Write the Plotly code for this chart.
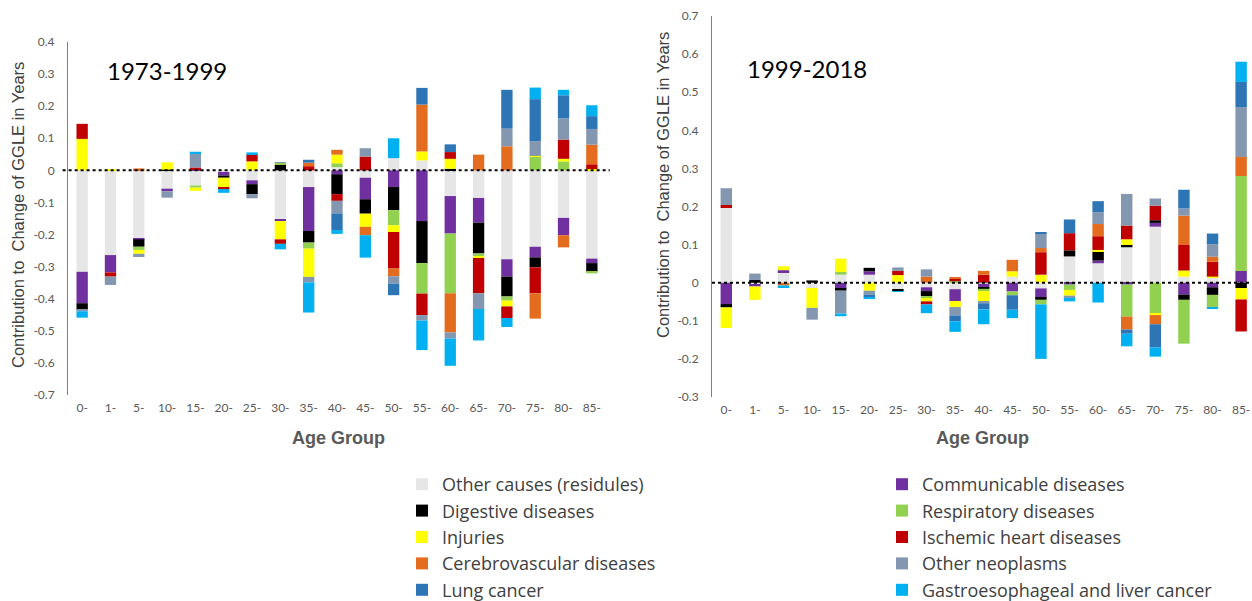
import plotly.graph_objects as go

ages = ["0-", "1-", "5-", "10-", "15-", "20-", "25-", "30-", "35-", "40-",
        "45-", "50-", "55-", "60-", "65-", "70-", "75-", "80-", "85-"]

causes = ["Other causes (residules)", "Communicable diseases", "Digestive diseases",
          "Respiratory diseases", "Injuries", "Ischemic heart diseases",
          "Cerebrovascular diseases", "Other neoplasms", "Lung cancer",
          "Gastroesophageal and liver cancer"]

colors = ["#E6E6E6", "#7030A0", "#000000", "#92D050", "#FFFF00", "#C00000",
          "#E46C1E", "#8497B0", "#2E75B6", "#00B0F0"]

# ---- 1973-1999 ----
other_73 = [-0.316, -0.264, -0.212, -0.057, -0.047, -0.005, -0.031, -0.153, -0.052, 0.010,
            -0.023, 0.038, 0.031, -0.080, -0.086, -0.277, -0.238, -0.148, -0.275]
commun_73 = [-0.098, -0.054, -0.003, -0.008, 0.004, -0.011, -0.012, -0.005, -0.137, -0.012,
             -0.067, -0.052, -0.158, -0.117, -0.077, -0.054, -0.033, -0.054, -0.014]
digest_73 = [-0.021, 0.0, -0.023, 0.002, 0.0, -0.007, -0.031, 0.018, -0.036, -0.062,
             -0.045, -0.072, -0.131, 0.005, -0.096, -0.062, -0.031, 0.0, -0.027]
resp_73 = [0.0, 0.0, -0.010, 0.0, -0.007, 0.0, 0.0, 0.005, -0.019, 0.012,
           0.0, -0.047, -0.095, -0.186, -0.008, -0.013, 0.043, 0.028, -0.005]
injur_73 = [0.098, 0.003, -0.012, 0.023, -0.010, -0.031, 0.028, -0.057, -0.088, 0.027,
            -0.041, -0.021, 0.028, 0.031, -0.006, -0.018, 0.002, 0.008, 0.004]
ihd_73 = [0.047, -0.013, 0.0, 0.0, 0.005, -0.004, 0.022, -0.014, 0.013, -0.021,
          0.043, -0.114, -0.067, 0.021, -0.110, -0.036, -0.081, 0.060, 0.015]
cereb_73 = [0.0, 0.0, 0.006, 0.0, 0.0, 0.0, 0.0, 0.0, 0.011, 0.015,
            -0.026, -0.024, 0.146, -0.122, 0.049, 0.075, -0.079, -0.038, 0.061]
neopl_73 = [-0.004, -0.026, -0.010, -0.020, 0.043, 0.0, -0.013, 0.003, -0.017, -0.039,
            0.026, -0.023, -0.017, -0.019, -0.049, 0.055, 0.046, 0.066, 0.049]
lung_73 = [0.0, 0.0, 0.0, 0.0, 0.0, 0.0, 0.0, 0.0, 0.009, -0.052,
           0.0, -0.036, 0.052, 0.024, 0.0, 0.121, 0.131, 0.072, 0.040]
gastro_73 = [-0.020, 0.0, 0.0, 0.0, 0.006, -0.012, 0.006, -0.017, -0.094, -0.012,
             -0.070, 0.062, -0.092, -0.085, -0.098, -0.028, 0.036, 0.017, 0.034]

# ---- 1999-2018 ----
other_99 = [0.196, -0.005, 0.028, -0.014, 0.021, 0.021, -0.017, -0.012, -0.017, -0.003,
            0.016, -0.015, 0.069, 0.051, 0.093, 0.147, 0.016, 0.013, 0.0]
commun_99 = [-0.056, -0.005, 0.005, 0.0, -0.016, 0.009, 0.0, -0.010, -0.031, -0.009,
             -0.023, -0.025, -0.005, 0.007, -0.005, 0.010, -0.031, -0.012, 0.031]
digest_99 = [-0.009, 0.007, 0.0, 0.006, -0.005, 0.009, -0.005, -0.013, 0.0, -0.004,
             0.0, -0.005, 0.016, 0.024, 0.006, 0.007, -0.014, -0.020, -0.014]
resp_99 = [0.0, 0.0, 0.0, 0.0, 0.007, 0.0, 0.0, -0.005, 0.004, -0.006,
           -0.010, -0.012, -0.014, 0.0, -0.084, -0.082, -0.115, -0.032, 0.249]
injur_99 = [-0.054, -0.035, 0.010, -0.052, 0.035, -0.021, 0.020, -0.009, -0.016, -0.026,
            0.014, 0.021, -0.015, 0.004, 0.015, -0.003, 0.016, 0.003, -0.030]
ihd_99 = [0.008, 0.0, 0.0, 0.0, 0.0, 0.0, 0.011, -0.008, 0.006, 0.021,
          0.0, 0.059, 0.045, 0.036, 0.036, 0.038, 0.067, 0.039, -0.084]
cereb_99 = [0.0, 0.0, -0.007, 0.0, 0.0, 0.0, 0.0, 0.016, 0.005, 0.010,
            0.030, 0.011, 0.0, 0.032, -0.034, -0.024, 0.077, 0.013, 0.050]
neopl_99 = [0.044, 0.017, 0.0, -0.031, -0.060, -0.010, 0.009, 0.019, -0.022, -0.006,
            0.0, 0.038, -0.006, 0.031, 0.083, 0.019, 0.019, 0.033, 0.131]
lung_99 = [0.0, 0.0, 0.0, 0.0, 0.0, -0.007, 0.0, 0.0, -0.015, -0.016,
           -0.038, 0.004, 0.036, 0.029, -0.011, -0.061, 0.049, 0.028, 0.066]
gastro_99 = [0.0, 0.0, -0.007, 0.0, -0.007, -0.005, -0.002, -0.023, -0.028, -0.039,
             -0.022, -0.143, -0.009, -0.052, -0.033, -0.024, 0.0, -0.004, 0.053]

left_tick_vals = [0.4, 0.3, 0.2, 0.1, 0.0, -0.1, -0.2, -0.3, -0.4, -0.5, -0.6, -0.7]
left_tick_text = ["0.4", "0.3", "0.2", "0.1", "0", "-0.1", "-0.2", "-0.3", "-0.4", "-0.5", "-0.6", "-0.7"]
right_tick_vals = [0.7, 0.6, 0.5, 0.4, 0.3, 0.2, 0.1, 0.0, -0.1, -0.2, -0.3]
right_tick_text = ["0.7", "0.6", "0.5", "0.4", "0.3", "0.2", "0.1", "0", "-0.1", "-0.2", "-0.3"]

series_73 = [other_73, commun_73, digest_73, resp_73, injur_73, ihd_73, cereb_73, neopl_73, lung_73, gastro_73]
series_99 = [other_99, commun_99, digest_99, resp_99, injur_99, ihd_99, cereb_99, neopl_99, lung_99, gastro_99]

W, H = 1252, 601
fig = go.Figure()

for i, name in enumerate(causes):
    leg = "legend" if i % 2 == 0 else "legend2"
    fig.add_trace(go.Bar(x=ages, y=series_73[i], name=name, marker_color=colors[i],
                         marker_line_width=0, xaxis="x", yaxis="y",
                         legendgroup=name, showlegend=True, legend=leg))
    fig.add_trace(go.Bar(x=ages, y=series_99[i], name=name, marker_color=colors[i],
                         marker_line_width=0, xaxis="x2", yaxis="y2",
                         legendgroup=name, showlegend=False, legend=leg))

tickfont = dict(family="Lato, Liberation Sans, sans-serif", size=12, color="#595959")
legfont = dict(family="Open Sans, sans-serif", size=18, color="#404040")

fig.update_layout(
    width=W, height=H,
    margin=dict(l=0, r=0, t=0, b=0, autoexpand=False),
    paper_bgcolor="white", plot_bgcolor="white",
    barmode="relative", bargap=0.6,
    xaxis=dict(domain=[68 / W, 606 / W], anchor="y", type="category",
               range=[-0.5, 18.5], showgrid=False, zeroline=False, showline=False,
               tickfont=tickfont, ticks="", ticklabelstandoff=4, automargin=False),
    yaxis=dict(domain=[1 - 395 / H, 1 - 42 / H], anchor="x", range=[-0.7, 0.4],
               tickvals=left_tick_vals, ticktext=left_tick_text,
               showgrid=False, zeroline=False, showline=True, linecolor="#7F7F7F",
               linewidth=1, ticks="", tickfont=tickfont, ticklabelstandoff=10,
               automargin=False),
    xaxis2=dict(domain=[712 / W, 1.0], anchor="y2", type="category",
                range=[-0.5, 18.38], showgrid=False, zeroline=False, showline=False,
                tickfont=tickfont, ticks="", ticklabelstandoff=4, automargin=False),
    yaxis2=dict(domain=[1 - 397 / H, 1 - 16 / H], anchor="x2", range=[-0.3, 0.7],
                tickvals=right_tick_vals, ticktext=right_tick_text,
                showgrid=False, zeroline=False, showline=True, linecolor="#7F7F7F",
                linewidth=1, ticks="", tickfont=tickfont, ticklabelstandoff=10,
                automargin=False),
    legend=dict(x=402 / W, y=1 - 466 / H, xanchor="left", yanchor="top",
                orientation="v", traceorder="normal", font=legfont,
                bgcolor="rgba(0,0,0,0)"),
    legend2=dict(x=882 / W, y=1 - 466 / H, xanchor="left", yanchor="top",
                 orientation="v", traceorder="normal", font=legfont,
                 bgcolor="rgba(0,0,0,0)"),
    shapes=[
        dict(type="line", xref="x domain", yref="y", x0=-0.01, x1=1.007, y0=0, y1=0,
             line=dict(color="black", width=2, dash="dot")),
        dict(type="line", xref="x2 domain", yref="y2", x0=0.0, x1=1.0, y0=0, y1=0,
             line=dict(color="black", width=2, dash="dot")),
    ],
    annotations=[
        dict(text="1973-1999", x=105 / W, y=1 - 70 / H, xref="paper", yref="paper",
             xanchor="left", yanchor="middle", showarrow=False,
             font=dict(family="Lato, sans-serif", size=24, color="black")),
        dict(text="1999-2018", x=745 / W, y=1 - 68 / H, xref="paper", yref="paper",
             xanchor="left", yanchor="middle", showarrow=False,
             font=dict(family="Lato, sans-serif", size=24, color="black")),
        dict(text="Contribution to  Change of GGLE in Years", x=18 / W, y=1 - 215 / H,
             xref="paper", yref="paper", xanchor="center", yanchor="middle",
             textangle=-90, showarrow=False,
             font=dict(family="Liberation Sans, Arial, sans-serif", size=16.5, color="#404040")),
        dict(text="Contribution to  Change of GGLE in Years", x=663 / W, y=1 - 185 / H,
             xref="paper", yref="paper", xanchor="center", yanchor="middle",
             textangle=-90, showarrow=False,
             font=dict(family="Liberation Sans, Arial, sans-serif", size=16.5, color="#404040")),
        dict(text="<b>Age Group</b>", x=338 / W, y=1 - 438 / H, xref="paper", yref="paper",
             xanchor="center", yanchor="middle", showarrow=False,
             font=dict(family="Liberation Sans, Arial, sans-serif", size=18, color="#595959")),
        dict(text="<b>Age Group</b>", x=982 / W, y=1 - 438 / H, xref="paper", yref="paper",
             xanchor="center", yanchor="middle", showarrow=False,
             font=dict(family="Liberation Sans, Arial, sans-serif", size=18, color="#595959")),
    ],
)

fig.write_html("out.html", config={"displayModeBar": False},
               post_script="document.body.style.margin='0';document.body.style.overflow='hidden';")
